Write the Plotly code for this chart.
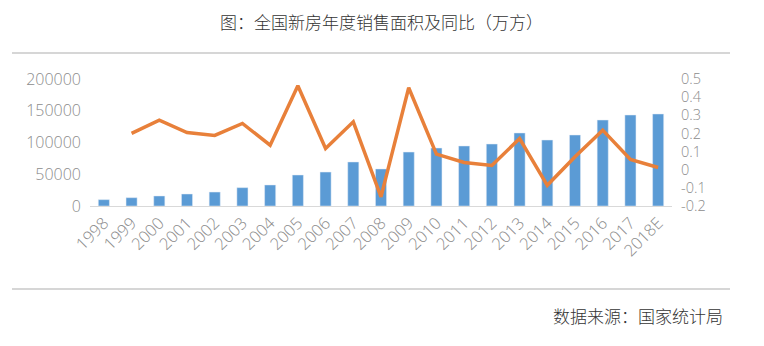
import plotly.graph_objects as go

# Annual new-home sales area (10k m²) and YoY growth
years = ["1998", "1999", "2000", "2001", "2002", "2003", "2004", "2005", "2006", "2007",
         "2008", "2009", "2010", "2011", "2012", "2013", "2014", "2015", "2016", "2017", "2018E"]
sales_area = [10000, 13100, 15800, 18900, 22000, 28900, 33100, 48800, 53500, 69300,
              58300, 85000, 91300, 94500, 97600, 115000, 103900, 111800, 135400, 143300, 144900]
yoy_years = years[1:]
yoy = [0.20, 0.273, 0.205, 0.189, 0.255, 0.135, 0.463, 0.117, 0.264,
       -0.15, 0.452, 0.086, 0.04, 0.023, 0.172, -0.086, 0.071, 0.218, 0.056, 0.012]

left_ticks = [0, 50000, 100000, 150000, 200000]
left_labels = ["0", "50000", "100000", "150000", "200000"]
right_ticks = [-0.2, -0.1, 0, 0.1, 0.2, 0.3, 0.4, 0.5]
right_labels = ["-0.2", "-0.1", "0", "0.1", "0.2", "0.3", "0.4", "0.5"]

CJK_FONT = "Noto Sans CJK SC"
NUM_FONT = "Open Sans"
TICK_COLOR = "#8c8c8c"

fig = go.Figure()
fig.add_trace(go.Bar(x=years, y=sales_area, marker_color="#5b9bd5", width=0.4,
                     name="销售面积", yaxis="y"))
fig.add_trace(go.Scatter(x=yoy_years, y=yoy, mode="lines", name="同比",
                         line=dict(color="#e8803a", width=3.5), yaxis="y2"))

fig.update_layout(
    width=764, height=346,
    margin=dict(l=90, r=92, t=79, b=140),
    paper_bgcolor="white", plot_bgcolor="white",
    showlegend=False,
    font=dict(family=NUM_FONT, color=TICK_COLOR),
    xaxis=dict(type="category", tickangle=-45, showgrid=False, showline=True,
               linecolor="#d9d9d9", linewidth=1, ticks="",
               tickfont=dict(size=16.5, color=TICK_COLOR, family=NUM_FONT, weight=300)),
    yaxis=dict(range=[0, 200000], tickvals=left_ticks, ticktext=left_labels,
               showgrid=False, zeroline=False, ticks="",
               tickfont=dict(size=16, color=TICK_COLOR, family=NUM_FONT, weight=300),
               ticklabelstandoff=8),
    yaxis2=dict(range=[-0.2, 0.5], tickvals=right_ticks, ticktext=right_labels,
                overlaying="y", side="right", showgrid=False, zeroline=False,
                ticks="", tickfont=dict(size=14.5, color=TICK_COLOR, family=NUM_FONT, weight=300),
                ticklabelstandoff=8),
)

fig.add_annotation(text="图：全国新房年度销售面积及同比（万方）", xref="paper", yref="paper",
                   x=0.5, y=1.449, xanchor="center", yanchor="middle", showarrow=False,
                   font=dict(size=17, color="#333333", family=CJK_FONT, weight=300))
fig.add_annotation(text="数据来源：国家统计局", xref="paper", yref="paper",
                   x=1.091, y=-0.866, xanchor="right", yanchor="middle", showarrow=False,
                   font=dict(size=17, color="#333333", family=CJK_FONT, weight=300))

for yy in (1.205, -0.654):
    fig.add_shape(type="line", xref="paper", yref="paper", x0=-0.134, x1=1.0997,
                  y0=yy, y1=yy, line=dict(color="#c8c8c8", width=1.5))

fig.write_html("out.html")
